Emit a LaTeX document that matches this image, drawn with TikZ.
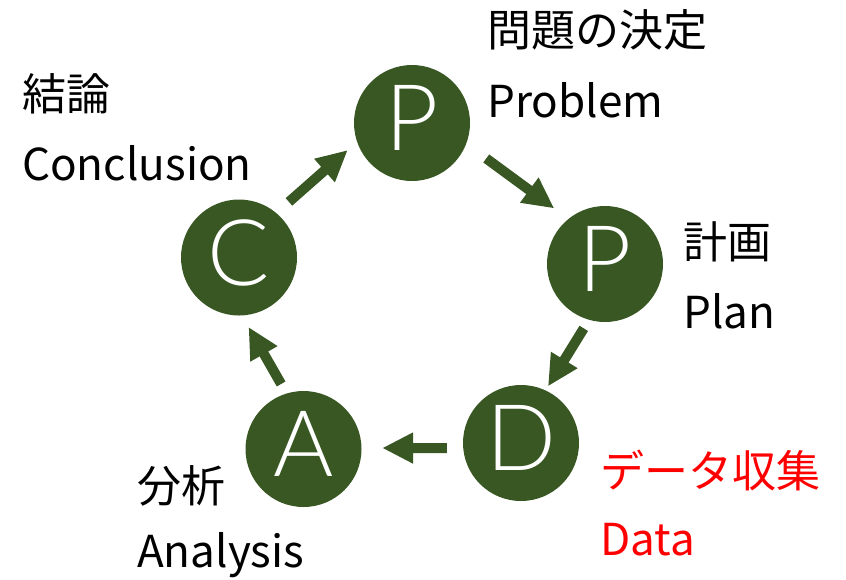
\documentclass[tikz,border=0pt]{standalone}
\usepackage{fontspec}
\setmainfont{Noto Sans CJK JP}
\newfontfamily\lightfont{Lato Light}
\usetikzlibrary{arrows.meta}
\definecolor{dkgreen}{HTML}{385723}
\definecolor{labelred}{HTML}{FF0000}
\begin{document}
\begin{tikzpicture}[x=1pt,y=-1pt,
  stage/.style={circle, fill=dkgreen, minimum size=116pt, inner sep=0pt, text=white,
    font=\lightfont\fontsize{92}{92}\selectfont, text height=67pt, text depth=12pt},
  flow/.style={draw=dkgreen, line width=10pt, -{Triangle[width=29pt,length=31pt]}},
  lbl/.style={anchor=base west, inner sep=0pt, font=\fontsize{44}{44}\selectfont},
]
\useasboundingbox (0,0) rectangle (846,579);
\node[stage] (P1) at (412,123) {P};
\node[stage] (P2) at (605,264) {P};
\node[stage] (D) at (521,443) {D};
\node[stage] (A) at (303.5,449) {A};
\node[stage] (C) at (239,257.5) {C};
\draw[flow, shorten <=16.7pt, shorten >=12.3pt] (C.50.1) -- (P1.199.7);
\draw[flow, shorten <=24.7pt, shorten >=17.5pt] (P1.339) -- (P2.129.1);
\draw[flow, shorten <=9.9pt, shorten >=4.6pt] (P2.254.7) -- (D.65.5);
\draw[flow, shorten <=16.2pt, shorten >=20.5pt] (D.185) -- (A.1);
\draw[flow, shorten <=10.8pt, shorten >=13.1pt] (A.107.3) -- (C.273.2);
\node[lbl] (t1) at (487,46) {問題の決定};
\node[lbl] (t1e) at (487,117) {Problem};
\node[lbl] (t2) at (683,258) {計画};
\node[lbl] (t2e) at (683,328) {Plan};
\node[lbl, text=labelred] (t3) at (600,487) {データ収集};
\node[lbl, text=labelred] (t3e) at (600,555) {Data};
\node[lbl] (t4) at (137,502) {分析};
\node[lbl] (t4e) at (137,567) {Analysis};
\node[lbl] (t5) at (22,110) {結論};
\node[lbl] (t5e) at (22,180) {Conclusion};
\end{tikzpicture}
\end{document}
